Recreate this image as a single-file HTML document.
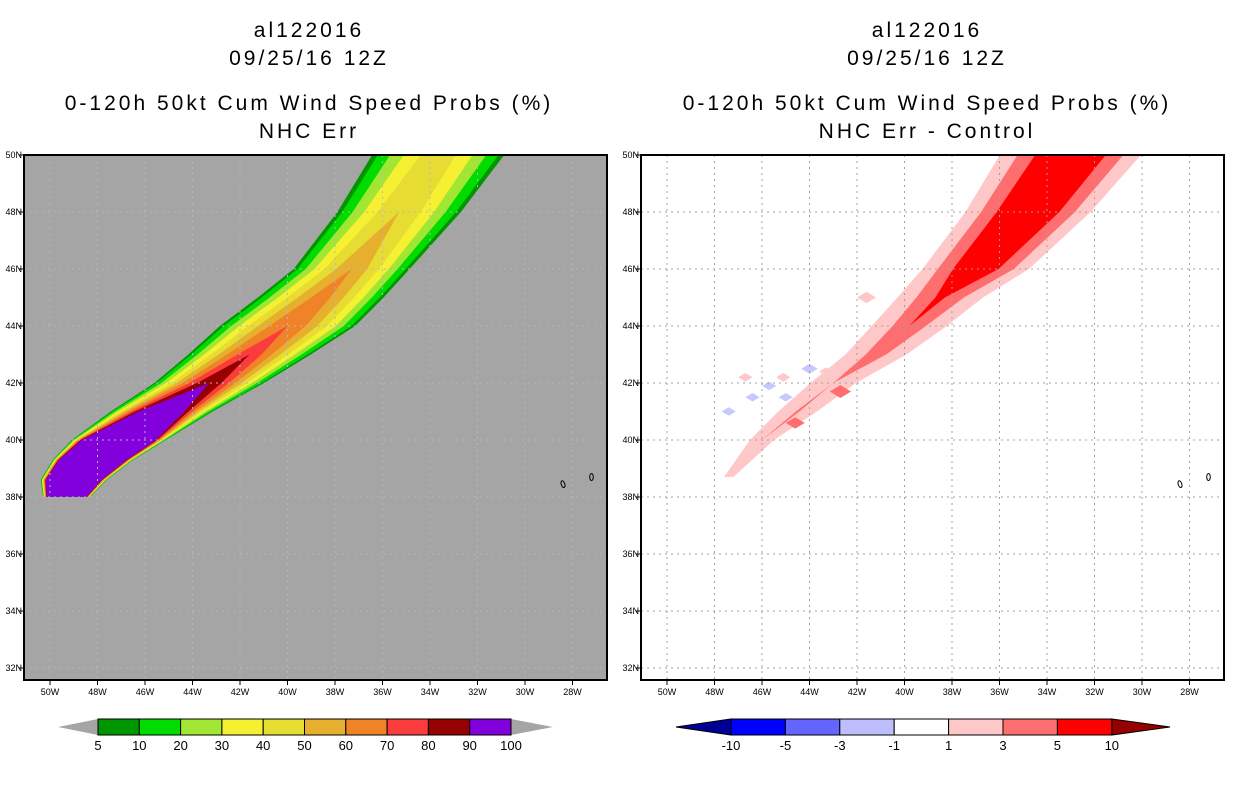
<!DOCTYPE html>
<html><head><meta charset="utf-8"><style>
body{margin:0;background:#fff;width:1236px;height:800px;overflow:hidden;font-family:"Liberation Sans",sans-serif}
svg{display:block}
</style></head><body>
<svg id="s" width="1236" height="800" xmlns="http://www.w3.org/2000/svg">
<defs>
<clipPath id="cl"><rect x="24" y="155" width="583" height="525"/></clipPath>
<clipPath id="cr"><rect x="641" y="155" width="583" height="525"/></clipPath>
</defs>
<g font-size="21" text-anchor="middle" fill="#000" letter-spacing="3">
<text x="309" y="37">al122016</text>
<text x="309" y="65">09/25/16 12Z</text>
<text x="309" y="110">0-120h 50kt Cum Wind Speed Probs (%)</text>
<text x="309" y="138">NHC Err</text>
<text x="927" y="37">al122016</text>
<text x="927" y="65">09/25/16 12Z</text>
<text x="927" y="110">0-120h 50kt Cum Wind Speed Probs (%)</text>
<text x="927" y="138">NHC Err - Control</text>
</g>
<rect x="24" y="155" width="583" height="525" fill="#a5a5a5"/>
<g id="Lp" clip-path="url(#cl)"></g>
<g id="Rp" clip-path="url(#cr)"></g>
<g id="ax"></g>
<rect x="24" y="155" width="583" height="525" fill="none" stroke="#000" stroke-width="2"/>
<rect x="641" y="155" width="583" height="525" fill="none" stroke="#000" stroke-width="2"/>
<g id="cb"></g>
</svg>
<script>
const levels=[5,10,20,30,40,50,60,70,80,90,100];
const levelColors=["#009600","#00dc00","#a0e632","#f5f032","#e6dc32","#e6af2d","#f08228","#fa3c3c","#960000","#8200dc"];
const trackLat=[38.0,38.6,39.3,40.0,41.0,42.0,43.0,44.0,45.0,46.0,48.0,50.8];
const trackLon=[49.3,49.0,48.2,47.1,45.3,43.3,41.6,40.0,38.6,37.3,35.3,33.0];
const trackPeak=[400,400,400,300,130,90,77,70,64,58,50,45];
const trackHalfWidth=[1.0,1.4,1.7,2.0,2.2,2.4,2.7,3.0,2.8,2.6,2.8,3.1];

const dLevels=[1,3,5];
const dColors=["#ffc8c8","#ff6e6e","#ff0000"];
const dLat=[38.7,40.0,41.0,42.0,43.0,44.0,45.0,46.0,48.0,50.8];
const dLon=[47.4,46.0,44.5,43.0,41.2,39.8,38.5,37.0,34.8,32.3];
const dPeak=[2,2.3,3.2,3,4,4.6,5.5,8,9,9];
const dHalfWidth=[0.3,0.7,1.0,1.2,1.5,1.8,2.0,2.4,2.8,3.3];
const blobLon=[44.0,45.7,46.4,47.4,45.0,43.3,44.6,42.7,41.6,46.7,45.1];
const blobLat=[42.5,41.9,41.5,41.0,41.5,42.4,40.6,41.7,45.0,42.2,42.2];
const blobVal=[-2,-2,-2,-2,-2,2,4,4,2,2,2];
const blobSize=[0.35,0.3,0.3,0.3,0.3,0.3,0.4,0.45,0.4,0.3,0.3];

const NS="http://www.w3.org/2000/svg";
function xL(lon){return 50+(50-lon)*23.75;}
function xR(lon){return 667+(50-lon)*23.75;}
function yP(lat){return 155+(50-lat)*28.5;}
function mk(t,a,p){const e=document.createElementNS(NS,t);for(const k in a)e.setAttribute(k,a[k]);p.appendChild(e);return e;}
function band(lats,lons,ws,xf){
  let L=[],R=[];
  for(let i=0;i<lats.length;i++){const y=yP(lats[i]);L.push((xf(lons[i]+ws[i])).toFixed(1)+","+y.toFixed(1));R.unshift((xf(lons[i]-ws[i])).toFixed(1)+","+y.toFixed(1));}
  return L.concat(R).join(" ");
}
const Lp=document.getElementById("Lp");
for(let k=0;k<levelColors.length;k++){
  const lv=levels[k];
  const ws=trackPeak.map((p,i)=>trackHalfWidth[i]*Math.pow(Math.max(0,(p-lv)/p),0.7));
  const e=mk("polygon",{points:band(trackLat,trackLon,ws,xL),fill:levelColors[k]},Lp);
  
  
}
const Rp=document.getElementById("Rp");
for(let k=0;k<dLevels.length;k++){
  const lv=dLevels[k];
  const ws=dPeak.map((p,i)=>Math.max(0,dHalfWidth[i]*(p-lv)/(p-0.5)));
  const e=mk("polygon",{points:band(dLat,dLon,ws,xR),fill:dColors[k]},Rp);
  
  
}
for(let i=0;i<blobLon.length;i++){
  const v=blobVal[i],cx=xR(blobLon[i]),cy=yP(blobLat[i]),s=blobSize[i]*23.75;
  const col=v<0?"#c8c8ff":(v>=3?"#ff6e6e":"#ffc8c8");
  const e=mk("polygon",{points:`${cx-s},${cy} ${cx},${cy-s*0.6} ${cx+s},${cy} ${cx},${cy+s*0.6}`,fill:col},Rp);
  
  
}
const ax=document.getElementById("ax");
const lonTicks=[50,48,46,44,42,40,38,36,34,32,30,28];
const latTicks=[50,48,46,44,42,40,38,36,34,32];
[[xL,24,"#b4b4cc","left"],[xR,641,"#a0a0a0","right"]].forEach(([xf,x0,gc,side])=>{
  lonTicks.forEach(l=>{const x=xf(l);
    const g=mk("line",{x1:x,y1:155,x2:x,y2:680,stroke:gc,"stroke-dasharray":"2,4"},ax);
    
    mk("line",{x1:x,y1:680,x2:x,y2:685,stroke:"#000"},ax);
    const t=mk("text",{x:x,y:695,"font-size":"9","text-anchor":"middle"},ax);t.textContent=l+"W";
    });
  latTicks.forEach(l=>{const y=yP(l);
    const g=mk("line",{x1:x0,y1:y,x2:x0+583,y2:y,stroke:gc,"stroke-dasharray":"2,4"},ax);
    
    mk("line",{x1:x0-5,y1:y,x2:x0,y2:y,stroke:"#000"},ax);
    const t=mk("text",{x:x0-2,y:y+3,"font-size":"9","text-anchor":"end"},ax);t.textContent=l+"N";
    });
  [[28.4,38.45,-0.3],[27.2,38.7,0]].forEach(p=>{const cx=xf(p[0]),cy=yP(p[1]);
    const e=mk("ellipse",{cx:cx,cy:cy,rx:1.8,ry:3.5,fill:"none",stroke:"#000","stroke-width":1,transform:`rotate(${p[2]*60} ${cx} ${cy})`},ax);
    });
});
const cb=document.getElementById("cb");
const cbL=98,cbW=41.3;
mk("polygon",{points:`58,727 ${cbL},719 ${cbL},735`,fill:"#a5a5a5"},cb);
mk("polygon",{points:`${cbL+10*cbW},719 553,727 ${cbL+10*cbW},735`,fill:"#a5a5a5"},cb);
levelColors.forEach((c,i)=>{const e=mk("rect",{x:cbL+i*cbW,y:719,width:cbW,height:16,fill:c,stroke:"#000"},cb);
  });
levels.forEach((l,i)=>{const t=mk("text",{x:cbL+i*cbW,y:750,"font-size":"13","text-anchor":"middle"},cb);t.textContent=l;
  });
const rLab=["-10","-5","-3","-1","1","3","5","10"];
const rCol=["#0000ff","#6464ff","#bebeff","#ffffff","#ffc8c8","#ff6e6e","#ff0000"];
const rL=731,rW=54.4;
mk("polygon",{points:`676,727 ${rL},719 ${rL},735`,fill:"#000096",stroke:"#000"},cb);
mk("polygon",{points:`${rL+7*rW},719 1170,727 ${rL+7*rW},735`,fill:"#960000",stroke:"#000"},cb);
rCol.forEach((c,i)=>{const e=mk("rect",{x:rL+i*rW,y:719,width:rW,height:16,fill:c,stroke:"#000"},cb);
  });
rLab.forEach((l,i)=>{const t=mk("text",{x:rL+i*rW,y:750,"font-size":"13","text-anchor":"middle"},cb);t.textContent=l;
  });
</script>
</body></html>
